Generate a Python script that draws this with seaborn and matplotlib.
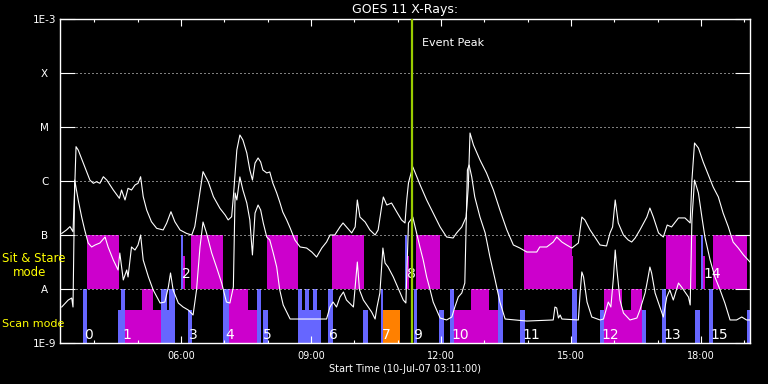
import matplotlib
matplotlib.use('Agg')
import matplotlib.pyplot as plt
import matplotlib.ticker as mticker
import pandas as pd
import seaborn as sns

plt.rcParams['font.family'] = ['DejaVu Sans']

# GOES 11 long channel (1-8 A), time in hours of 10-Jul-07, flux in W/m^2
long_time = [3.25, 3.36, 3.44, 3.51, 3.55, 3.58, 3.63, 3.75, 3.90, 3.98,
             4.05, 4.13, 4.21, 4.29, 4.44, 4.58, 4.63, 4.71, 4.78, 4.86,
             4.94, 5.01, 5.07, 5.13, 5.21, 5.32, 5.44, 5.59, 5.67, 5.77,
             5.86, 5.98, 6.13, 6.25, 6.32, 6.40, 6.51, 6.63, 6.75, 6.90,
             7.02, 7.09, 7.17, 7.21, 7.29, 7.36, 7.43, 7.52, 7.59, 7.65,
             7.71, 7.78, 7.84, 7.89, 7.98, 8.05, 8.12, 8.21, 8.28, 8.35,
             8.44, 8.52, 8.63, 8.75, 8.90, 9.02, 9.13, 9.25, 9.36, 9.44,
             9.55, 9.67, 9.74, 9.82, 9.94, 10.02, 10.07, 10.13, 10.25, 10.36,
             10.48, 10.55, 10.63, 10.67, 10.75, 10.86, 10.98, 11.09, 11.17, 11.21,
             11.25, 11.28, 11.35, 11.52, 11.67, 11.82, 11.98, 12.13, 12.28, 12.36,
             12.48, 12.58, 12.63, 12.67, 12.75, 12.90, 13.05, 13.21, 13.36, 13.52,
             13.67, 13.82, 13.98, 14.21, 14.28, 14.44, 14.59, 14.67, 14.79, 14.90,
             15.02, 15.17, 15.25, 15.32, 15.44, 15.55, 15.67, 15.82, 15.90, 15.96,
             16.02, 16.09, 16.21, 16.32, 16.40, 16.48, 16.59, 16.75, 16.82, 16.90,
             17.02, 17.13, 17.22, 17.32, 17.48, 17.63, 17.75, 17.79, 17.85, 17.94,
             18.05, 18.17, 18.28, 18.40, 18.51, 18.63, 18.74, 18.86, 18.98, 19.09,
             19.13]
long_flux = [1.07e-7, 1.24e-7, 1.43e-7, 1.15e-7, 7.84e-7, 4.32e-6, 3.75e-6, 2.13e-6, 1.04e-6, 9.06e-7,
             9.7e-7, 9.06e-7, 1.20e-6, 1.04e-6, 6.81e-7, 4.78e-7, 6.81e-7, 4.45e-7, 7.33e-7, 6.81e-7,
             8.43e-7, 9.06e-7, 1.20e-6, 5.12e-7, 2.90e-7, 1.76e-7, 1.33e-7, 1.24e-7, 1.65e-7, 2.70e-7,
             1.76e-7, 1.24e-7, 1.07e-7, 1.0e-7, 1.43e-7, 3.86e-7, 1.49e-6, 9.7e-7, 5.12e-7, 3.12e-7,
             2.35e-7, 1.90e-7, 2.18e-7, 5.12e-7, 3.75e-6, 7.11e-6, 5.74e-6, 3.30e-6, 1.60e-6, 1.04e-6,
             2.15e-6, 2.67e-6, 2.25e-6, 1.60e-6, 1.41e-6, 1.47e-6, 9.18e-7, 6.0e-7, 4.08e-7, 2.67e-7,
             1.90e-7, 1.35e-7, 8.08e-8, 6.0e-8, 5.74e-8, 4.84e-8, 3.91e-8, 5.74e-8, 7.41e-8, 1.0e-7,
             1.0e-7, 1.41e-7, 1.67e-7, 1.41e-7, 1.09e-7, 1.41e-7, 4.45e-7, 2.15e-7, 1.74e-7, 1.24e-7,
             1.0e-7, 1.24e-7, 3.30e-7, 5.06e-7, 3.59e-7, 3.91e-7, 2.67e-7, 1.90e-7, 1.67e-7, 4.45e-7,
             9.18e-7, 1.14e-6, 1.82e-6, 8.43e-7, 4.45e-7, 2.55e-7, 1.41e-7, 9.18e-8, 8.8e-8, 1.09e-7,
             1.41e-7, 2.15e-7, 7.74e-7, 7.74e-6, 4.64e-6, 2.45e-6, 1.41e-6, 6.81e-7, 2.90e-7, 1.24e-7,
             6.53e-8, 5.74e-8, 4.84e-8, 4.84e-8, 6.0e-8, 6.0e-8, 7.41e-8, 9.18e-8, 7.41e-8, 6.53e-8,
             5.74e-8, 7.11e-8, 2.15e-7, 1.90e-7, 1.24e-7, 9.18e-8, 6.53e-8, 6.26e-8, 1.09e-7, 1.41e-7,
             4.45e-7, 1.67e-7, 1.0e-7, 8.08e-8, 7.41e-8, 8.8e-8, 1.24e-7, 2.15e-7, 3.16e-7, 2.15e-7,
             1.09e-7, 9.18e-8, 1.53e-7, 1.41e-7, 2.07e-7, 2.07e-7, 1.67e-7, 1.04e-6, 5.06e-6, 4.08e-6,
             2.25e-6, 1.29e-6, 7.74e-7, 5.06e-7, 2.55e-7, 1.41e-7, 7.41e-8, 5.74e-8, 4.27e-8, 3.44e-8,
             3.16e-8]

# GOES 11 short channel (0.5-4 A)
short_time = [3.25, 3.40, 3.48, 3.51, 3.55, 3.63, 3.71, 3.78, 3.86, 3.94,
              4.02, 4.13, 4.25, 4.32, 4.44, 4.55, 4.59, 4.67, 4.75, 4.78,
              4.86, 4.94, 5.01, 5.07, 5.13, 5.25, 5.36, 5.52, 5.63, 5.71,
              5.76, 5.82, 5.94, 6.05, 6.17, 6.28, 6.36, 6.44, 6.51, 6.59,
              6.71, 6.82, 6.94, 7.05, 7.13, 7.21, 7.25, 7.29, 7.36, 7.43,
              7.52, 7.59, 7.65, 7.71, 7.78, 7.84, 7.90, 7.98, 8.05, 8.13,
              8.21, 8.28, 8.36, 8.52, 8.90, 9.36, 9.44, 9.51, 9.59, 9.67,
              9.75, 9.82, 9.98, 10.02, 10.07, 10.12, 10.21, 10.32, 10.40, 10.48,
              10.52, 10.59, 10.66, 10.71, 10.78, 10.90, 11.01, 11.13, 11.19, 11.25,
              11.30, 11.35, 11.52, 11.59, 11.67, 11.75, 11.82, 11.90, 11.98, 12.13,
              12.25, 12.32, 12.40, 12.48, 12.55, 12.61, 12.65, 12.71, 12.78, 12.90,
              13.02, 13.13, 13.25, 13.36, 13.48, 13.98, 14.59, 14.63, 14.67, 14.71,
              14.75, 14.79, 15.17, 15.21, 15.25, 15.29, 15.37, 15.48, 15.67, 15.75,
              15.86, 15.92, 15.98, 16.02, 16.06, 16.13, 16.21, 16.36, 16.52, 16.59,
              16.71, 16.78, 16.82, 16.86, 16.94, 17.05, 17.13, 17.21, 17.28, 17.36,
              17.48, 17.55, 17.63, 17.71, 17.75, 17.79, 17.85, 17.94, 18.02, 18.09,
              18.21, 18.32, 18.44, 18.55, 18.67, 18.82, 18.94, 19.05, 19.13]
short_flux = [4.64e-9, 6.25e-9, 6.81e-9, 4.64e-9, 1.04e-6, 4.45e-7, 2.15e-7, 1.24e-7, 7.11e-8, 6.0e-8,
              6.53e-8, 7.11e-8, 9.18e-8, 6.0e-8, 3.44e-8, 2.25e-8, 4.64e-8, 1.47e-8, 2.25e-8, 1.67e-8,
              6.0e-8, 5.27e-8, 6.53e-8, 1.0e-7, 3.44e-8, 1.67e-8, 9.6e-9, 5.5e-9, 5.74e-9, 1.09e-8,
              1.98e-8, 9.6e-9, 5.5e-9, 4.64e-9, 4.08e-9, 3.30e-9, 9.6e-9, 6.0e-8, 1.74e-7, 1.09e-7,
              4.64e-8, 2.55e-8, 1.29e-8, 5.74e-9, 5.5e-9, 1.09e-8, 6.0e-7, 4.45e-7, 1.19e-6, 6.81e-7,
              3.91e-7, 1.90e-7, 4.27e-8, 2.55e-7, 3.59e-7, 2.90e-7, 1.67e-7, 9.18e-8, 8.08e-8, 4.64e-8,
              2.55e-8, 9.6e-9, 5.06e-9, 2.78e-9, 2.78e-9, 2.78e-9, 4.64e-9, 5.74e-9, 4.64e-9, 7.11e-9,
              8.8e-9, 6.25e-9, 4.64e-9, 1.09e-8, 3.16e-8, 9.6e-9, 6.25e-9, 4.64e-9, 3.75e-9, 2.78e-9,
              4.45e-9, 8.43e-9, 5.74e-8, 3.03e-8, 2.55e-8, 1.67e-8, 1.04e-8, 6.25e-9, 5.5e-9, 1.67e-7,
              1.90e-7, 2.15e-7, 5.74e-8, 3.44e-8, 1.67e-8, 9.6e-9, 5.74e-9, 4.08e-9, 2.9e-9, 2.67e-9,
              3.03e-9, 4.64e-9, 7.11e-9, 8.43e-9, 1.29e-8, 1.60e-6, 1.98e-6, 1.19e-6, 5.06e-7, 2.15e-7,
              1.09e-7, 3.91e-8, 1.47e-8, 5.74e-9, 2.78e-9, 2.55e-9, 2.67e-9, 4.64e-9, 4.45e-9, 2.9e-9,
              3.30e-9, 2.78e-9, 2.67e-9, 8.43e-9, 2.07e-8, 1.67e-8, 5.74e-9, 3.03e-9, 2.67e-9, 2.78e-9,
              5.74e-9, 4.64e-9, 1.67e-8, 5.27e-8, 2.25e-8, 6.25e-9, 3.59e-9, 2.67e-9, 2.9e-9, 4.08e-9,
              8.43e-9, 1.67e-8, 2.55e-8, 1.98e-8, 8.43e-9, 4.64e-9, 3.03e-9, 7.11e-9, 9.6e-9, 6.25e-9,
              1.29e-8, 1.09e-8, 8.8e-9, 7.11e-9, 5.06e-9, 1.90e-7, 1.04e-6, 6.0e-7, 2.15e-7, 9.18e-8,
              3.44e-8, 1.67e-8, 9.6e-9, 5.5e-9, 2.67e-9, 2.67e-9, 3.03e-9, 2.67e-9, 2.67e-9]

event_peak = 11.33

# observing blocks (start, end) in hours
ss_mag_full = [(3.84, 4.57), (6.23, 6.96), (7.98, 8.70), (9.48, 10.22),
               (11.42, 11.98), (13.92, 15.02), (17.19, 17.88), (18.28, 19.06)]
ss_mag_part = [(6.05, 6.09), (11.22, 11.27), (15.02, 15.05), (18.05, 18.10)]
ss_blue_full = [(6.00, 6.05), (11.18, 11.22), (18.00, 18.05)]

scan_blue_full = [(3.74, 3.84), (4.62, 4.72), (5.55, 5.68), (5.72, 5.86), (6.96, 7.11),
                  (7.75, 7.84), (8.70, 8.79), (8.86, 8.95), (9.04, 9.14), (9.39, 9.50),
                  (10.62, 10.67), (11.37, 11.44), (12.21, 12.30), (13.32, 13.43),
                  (15.03, 15.14), (17.11, 17.19), (18.18, 18.28)]
scan_blue_part = [(4.55, 4.62), (5.55, 5.86), (6.16, 6.25), (7.89, 8.00), (8.70, 9.23),
                  (10.21, 10.32), (11.96, 12.07), (13.82, 13.94), (15.67, 15.76),
                  (16.63, 16.72), (17.86, 17.98), (19.06, 19.13)]
scan_mag_full = [(5.10, 5.35), (7.11, 7.55), (12.69, 13.11), (15.76, 16.18), (16.38, 16.64)]
scan_mag_part = [(4.72, 5.55), (7.55, 7.75), (12.30, 13.32), (15.76, 16.63)]
scan_orange_part = [(10.67, 11.05)]

scan_labels = ['0', '1', '3', '4', '5', '6', '7', '9', '10', '11', '12', '13', '15']
scan_label_time = [3.76, 4.64, 6.18, 7.03, 7.90, 9.42, 10.64, 11.35, 12.25, 13.89, 15.71, 17.13, 18.21]
ss_labels = ['2', '8', '14']
ss_label_time = [6.02, 11.21, 18.05]

flare_levels = [1e-9, 1e-8, 1e-7, 1e-6, 1e-5, 1e-4, 1e-3]
flare_names = ['1E-9', 'A', 'B', 'C', 'M', 'X', '1E-3']
hour_ticks = [6, 9, 12, 15, 18]

MAGENTA = '#cc00cc'
BLUE = '#6666ff'
ORANGE = '#ff8000'
part = 10 ** (33 / 54)  # partial blocks fill ~60% of the band (in log)

fig = plt.figure(figsize=(7.68, 3.84), dpi=100, facecolor='black')
ax = fig.add_axes([60 / 768, 41 / 384, 690 / 768, 324 / 384], facecolor='black')
ax.set_yscale('log')


def draw_blocks(blocks, lo, hi, color):
    left = [b[0] for b in blocks]
    width = [b[1] - b[0] for b in blocks]
    ax.bar(left, [hi - lo] * len(blocks), width=width, bottom=lo, align='edge',
           color=color, linewidth=0, zorder=1)


# sit & stare band (A..B) and scan band (1E-9..A)
draw_blocks(ss_mag_full, 1e-8, 1e-7, MAGENTA)
draw_blocks(ss_mag_part, 1e-8, 1e-8 * part, MAGENTA)
draw_blocks(ss_blue_full, 1e-8, 1e-7, BLUE)
draw_blocks(scan_mag_part, 1e-9, 1e-9 * part, MAGENTA)
draw_blocks(scan_mag_full, 1e-9, 1e-8, MAGENTA)
draw_blocks(scan_blue_part, 1e-9, 1e-9 * part, BLUE)
draw_blocks(scan_blue_full, 1e-9, 1e-8, BLUE)
draw_blocks(scan_orange_part, 1e-9, 1e-9 * part, ORANGE)

# dotted flare class lines
for lvl in flare_levels[1:-1]:
    ax.axhline(lvl, color='white', lw=0.72, ls=(0, (1, 3)), zorder=2)

long_df = pd.DataFrame({'time': long_time, 'flux': long_flux})
short_df = pd.DataFrame({'time': short_time, 'flux': short_flux})
sns.lineplot(data=long_df, x='time', y='flux', color='white', lw=0.8,
             estimator=None, sort=False, ax=ax, zorder=4)
sns.lineplot(data=short_df, x='time', y='flux', color='white', lw=0.8,
             estimator=None, sort=False, ax=ax, zorder=4)

ax.axvline(event_peak, color='#99cc00', lw=1.6, zorder=6)
ax.annotate('Event Peak', xy=(event_peak, 0.926), xycoords=('data', 'axes fraction'),
            xytext=(7.5, 0), textcoords='offset points', va='center',
            color='white', fontsize=8)

for lab, t in zip(scan_labels, scan_label_time):
    ax.text(t, 0.012, lab, transform=ax.get_xaxis_transform(), ha='left',
            va='baseline', color='white', fontsize=10, zorder=5)
for lab, t in zip(ss_labels, ss_label_time):
    ax.text(t, 0.2, lab, transform=ax.get_xaxis_transform(), ha='left',
            va='baseline', color='white', fontsize=10, zorder=5)

ax.set_xlim(3.21, 19.13)
ax.set_ylim(1e-9, 1e-3)

ax.set_yticks(flare_levels)
ax.set_yticklabels(flare_names)
ax.yaxis.set_minor_locator(mticker.NullLocator())
ax.tick_params(axis='y', which='major', direction='in', length=10.8, width=0.8,
               colors='white', left=True, right=True, pad=11, labelsize=7.5)
for lbl in ax.get_yticklabels():
    lbl.set_horizontalalignment('center')

ax.set_xticks(hour_ticks)
ax.set_xticklabels([f'{h:02d}:00' for h in hour_ticks])
ax.xaxis.set_minor_locator(mticker.MultipleLocator(1))
ax.tick_params(axis='x', which='major', direction='in', length=4.8, width=0.8,
               colors='white', top=True, bottom=True, pad=6, labelsize=7)
ax.tick_params(axis='x', which='minor', direction='in', length=2.5, width=0.8,
               colors='white', top=True, bottom=True)

for s in ax.spines.values():
    s.set_color('white')
    s.set_linewidth(1.0)

ax.set_title('GOES 11 X-Rays:', color='white', fontsize=9, pad=4)
ax.set_xlabel('Start Time (10-Jul-07 03:11:00)', color='white', fontsize=7, labelpad=2)
ax.set_ylabel('')

fig.text(2 / 768, 1 - 259 / 384, 'Sit & Stare', color='yellow', fontsize=8.5, ha='left', va='center')
fig.text(13 / 768, 1 - 272 / 384, 'mode', color='yellow', fontsize=8.5, ha='left', va='center')
fig.text(2 / 768, 1 - 324 / 384, 'Scan mode', color='yellow', fontsize=8, ha='left', va='center')

fig.savefig('out.png', dpi=100, facecolor='black')
